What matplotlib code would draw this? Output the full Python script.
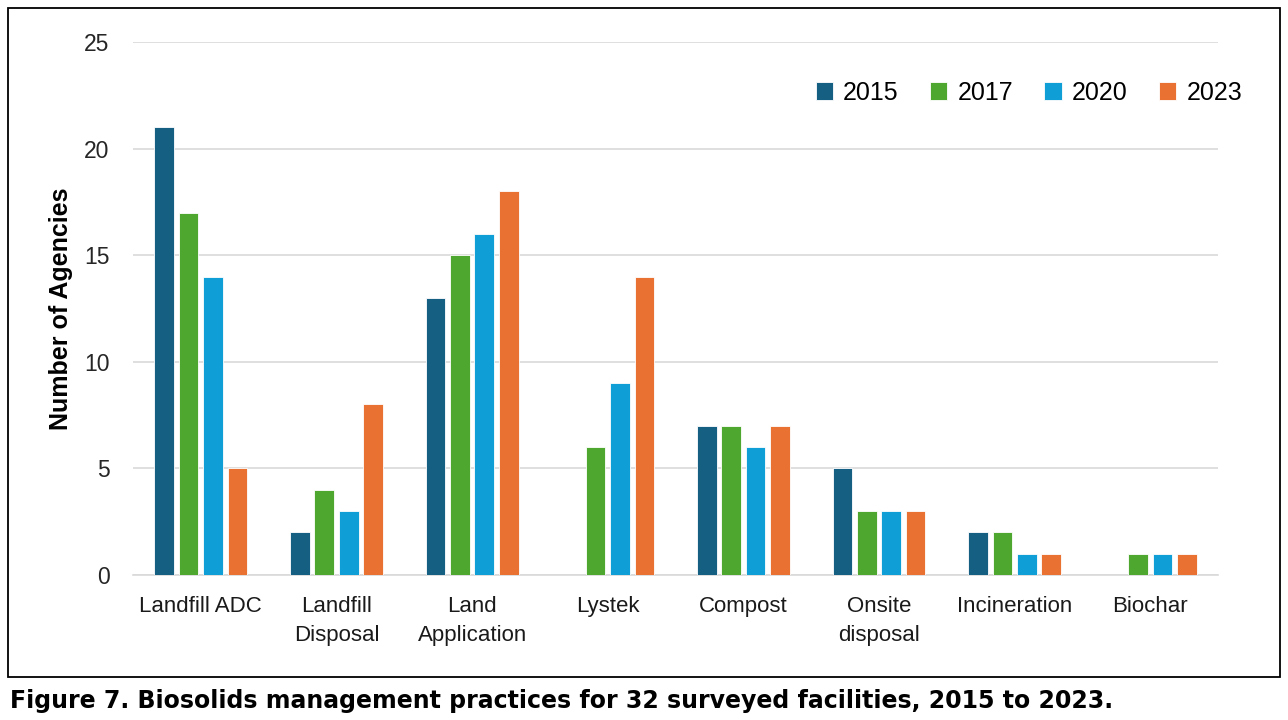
import numpy as np
import matplotlib.pyplot as plt
from matplotlib.patches import Rectangle

# Datos
categorias = ["Landfill ADC", "Landfill\nDisposal", "Land\nApplication", "Lystek",
              "Compost", "Onsite\ndisposal", "Incineration", "Biochar"]
anios = ["2015", "2017", "2020", "2023"]
v2015 = [21, 2, 13, 0, 7, 5, 2, 0]
v2017 = [17, 4, 15, 6, 7, 3, 2, 1]
v2020 = [14, 3, 16, 9, 6, 3, 1, 1]
v2023 = [5, 8, 18, 14, 7, 3, 1, 1]
series = [v2015, v2017, v2020, v2023]
colores = ["#156082", "#4ea72e", "#0f9ed5", "#e97132"]

plt.rcParams["font.family"] = ["Liberation Sans", "DejaVu Sans"]

fig = plt.figure(figsize=(12.88, 7.2), dpi=100)
ax = fig.add_axes([0.1033, 0.2014, 0.8424, 0.7403])

x = np.arange(len(categorias))
paso = 0.18
ancho = 0.145
for i, (vals, c, lab) in enumerate(zip(series, colores, anios)):
    ax.bar(x + (i - 1.5) * paso, vals, width=ancho, color=c, label=lab,
           edgecolor="white", linewidth=0.6, zorder=3)

ax.set_xlim(-0.5, len(categorias) - 0.5)
ax.set_ylim(0, 25)
ax.set_yticks([0, 5, 10, 15, 20, 25])
ax.yaxis.grid(True, color="#d9d9d9", linewidth=1.2, zorder=0)
ax.set_xticks(x)
ax.set_xticklabels(categorias, fontsize=16, linespacing=1.5, color="#1a1a1a")
ax.tick_params(axis="both", length=0)
ax.tick_params(axis="x", pad=15)
ax.tick_params(axis="y", pad=17, labelsize=16.5, labelcolor="#262626")
for s in ["top", "right", "left"]:
    ax.spines[s].set_visible(False)
ax.spines["bottom"].set_color("#d9d9d9")
ax.spines["bottom"].set_linewidth(1.2)
ax.set_ylabel("Number of Agencies", fontsize=18, fontweight="bold", labelpad=8)

ax.legend(loc="center right", bbox_to_anchor=(0.974, 0.871), bbox_transform=fig.transFigure,
          ncol=4, frameon=False, fontsize=18, handlelength=0.7, handleheight=0.7,
          handletextpad=0.4, columnspacing=1.25, borderpad=0)

# marco
fig.patches.append(Rectangle((0.0062, 0.0597), 0.9876, 0.9293, transform=fig.transFigure,
                             fill=False, edgecolor="black", linewidth=1.3))

fig.text(0.008, 0.027, "Figure 7. Biosolids management practices for 32 surveyed facilities, 2015 to 2023.",
         fontsize=17, fontweight="bold", family=["DejaVu Sans"],
         va="center", ha="left")

plt.savefig("out.png", dpi=100)
